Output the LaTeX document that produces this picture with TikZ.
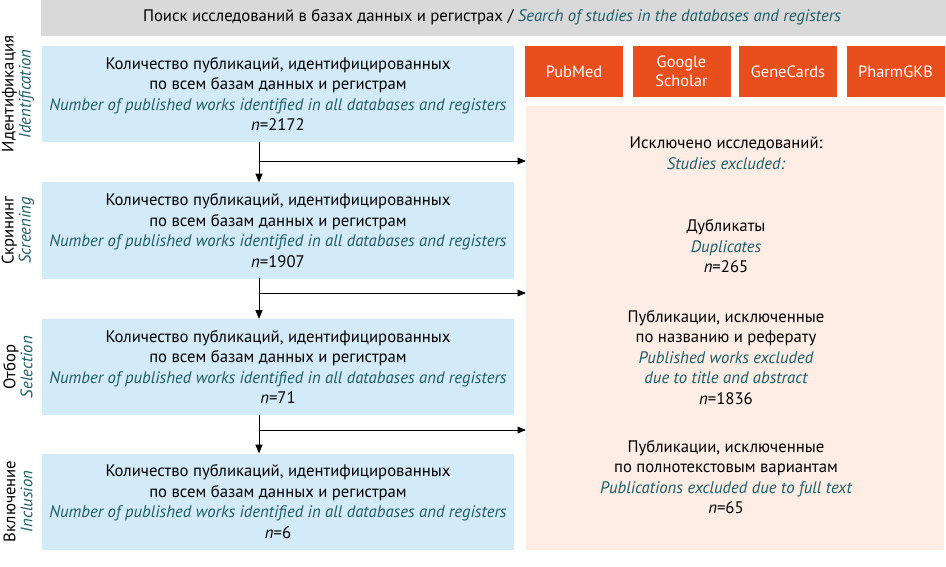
\documentclass[tikz,border=0pt]{standalone}
\usepackage{fontspec}
\setmainfont{PT Sans}
\usepackage{tikz}
\usetikzlibrary{calc}
\usetikzlibrary{arrows}
\begin{document}
\begin{tikzpicture}[line cap=round,line join=round,>=triangle 45,x=1pt,y=-1pt,
  txt/.style={font=\fontsize{16.7}{20.5}\selectfont,align=center,text=black},
  stagebox/.style={txt,fill=bluefill,minimum width=472pt,minimum height=96pt,inner sep=0pt},
  dbbox/.style={txt,fill=orng,text=white,minimum width=98pt,minimum height=51pt,inner sep=0pt,font=\fontsize{16.4}{19}\selectfont},
  stagelab/.style={txt,rotate=90,inner sep=0pt,font=\fontsize{16.7}{17}\selectfont}]
\definecolor{bluefill}{rgb}{0.827,0.918,0.973}
\definecolor{orng}{rgb}{0.910,0.310,0.110}
\definecolor{palefill}{rgb}{0.992,0.929,0.894}
\definecolor{grayhead}{rgb}{0.851,0.851,0.851}
\definecolor{teal2}{rgb}{0.114,0.369,0.416}
\useasboundingbox (0,0) rectangle (946,567);
% header
\fill[grayhead] (41,0) rectangle (946,36);
\node[txt] (head) at (492,17) {Поиск исследований в базах данных и регистрах / {\color{teal2}\itshape Search of studies in the databases and registers}};
% stages
\node[stagebox] (b1) at (278,94) {Количество публикаций, идентифицированных\\по всем базам данных и регистрам\\{\color{teal2}\itshape Number of published works identified in all databases and registers}\\{\itshape n}=2172};
\node[stagebox] (b2) at (278,230.5) {Количество публикаций, идентифицированных\\по всем базам данных и регистрам\\{\color{teal2}\itshape Number of published works identified in all databases and registers}\\{\itshape n}=1907};
\node[stagebox] (b3) at (278,367) {Количество публикаций, идентифицированных\\по всем базам данных и регистрам\\{\color{teal2}\itshape Number of published works identified in all databases and registers}\\{\itshape n}=71};
\node[stagebox] (b4) at (278,501.5) {Количество публикаций, идентифицированных\\по всем базам данных и регистрам\\{\color{teal2}\itshape Number of published works identified in all databases and registers}\\{\itshape n}=6};
\node[stagelab] (l1) at (18,94) {Идентификация\\{\color{teal2}\itshape Identification}};
\node[stagelab] (l2) at (18,230.5) {Скрининг\\{\color{teal2}\itshape Screening}};
\node[stagelab] (l3) at (18,367) {Отбор\\{\color{teal2}\itshape Selection}};
\node[stagelab] (l4) at (18,501.5) {Включение\\{\color{teal2}\itshape Inclusion}};
% databases
\node[dbbox] (pm) at (574,71.5) {PubMed};
\node[dbbox] (gs) at (681.5,71.5) {Google\\Scholar};
\node[dbbox] (gc) at (788,71.5) {GeneCards};
\node[dbbox] (pg) at (895.5,71.5) {PharmGKB};
% excluded
\node[fill=palefill,minimum width=418pt,minimum height=444pt,inner sep=0pt] (excl) at (735,328) {};
\node[txt] (ex0) at (726,153) {Исключено исследований:\\{\color{teal2}\itshape Studies excluded:}};
\node[txt] (ex1) at (726,246.5) {Дубликаты\\{\color{teal2}\itshape Duplicates}\\{\itshape n}=265};
\node[txt] (ex2) at (726,357.5) {Публикации, исключенные\\по названию и реферату\\{\color{teal2}\itshape Published works excluded}\\{\color{teal2}\itshape due to title and abstract}\\{\itshape n}=1836};
\node[txt] (ex3) at (726,477) {Публикации, исключенные\\по полнотекстовым вариантам\\{\color{teal2}\itshape Publications excluded due to full text}\\{\itshape n}=65};
% arrows
\coordinate (v) at (259,0);
\coordinate (s1) at (259,161);
\coordinate (s2) at (259,293);
\coordinate (s3) at (259,430);
\draw[line width=1pt,->] (b1.south -| v) -- (b2.north -| v);
\draw[line width=1pt,->] (b2.south -| v) -- (b3.north -| v);
\draw[line width=1pt,->] (b3.south -| v) -- (b4.north -| v);
\draw[line width=0.9pt,->] (s1) -- (s1 -| excl.west);
\draw[line width=0.9pt,->] (s2) -- (s2 -| excl.west);
\draw[line width=0.9pt,->] (s3) -- (s3 -| excl.west);
\end{tikzpicture}
\end{document}
